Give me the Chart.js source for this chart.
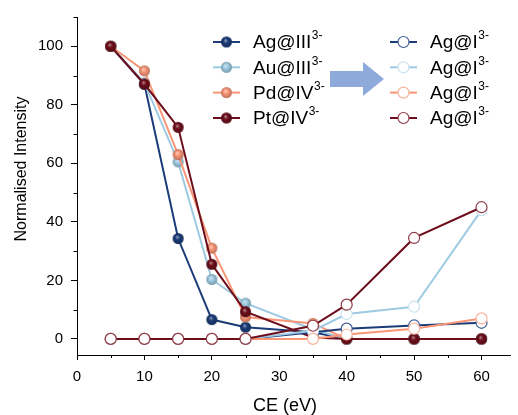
<!DOCTYPE html>
<html>
<head>
<meta charset="utf-8">
<script src="https://cdn.jsdelivr.net/npm/chart.js@4/dist/chart.umd.min.js"></script>
<style>
  html, body { margin: 0; padding: 0; background: #fff; }
  canvas { display: block; }
</style>
</head>
<body>
<canvas id="chart" width="518" height="415"></canvas>
<script>
// Collision energies (eV)
const collisionEnergy = [5, 10, 15, 20, 25, 35, 40, 50, 60];

// Precursor ions (filled markers), normalised intensity
const agIII = [100, 87.0, 34.3, 6.6, 4.0, 2.3, 0, 0, 0];
const auIII = [100, 87.5, 60.5, 20.3, 12.2, 3.2, 0, 0, 0];
const pdIV  = [100, 91.6, 63.0, 31.0, 7.5, 5.3, 0, 0, 0];
const ptIV  = [100, 87.1, 72.3, 25.5, 9.3, 0.5, 0, 0, 0];

// Ag@I product ions (open markers), one per precursor
const agIfromAg = [0, 0, 0, 0, 0, 2.3, 3.5, 4.6, 5.5];
const agIfromAu = [0, 0, 0, 0, 0, 2.8, 8.5, 11.0, 44.0];
const agIfromPd = [0, 0, 0, 0, 0, 0, 1.5, 3.5, 7.0];
const agIfromPt = [0, 0, 0, 0, 0, 4.5, 11.7, 34.5, 45.0];

// Axis ticks
const xTicks = [0, 10, 20, 30, 40, 50, 60];
const xMinorTicks = [5, 15, 25, 35, 45, 55];
const yTicks = [0, 20, 40, 60, 80, 100];
const yMinorTicks = [10, 30, 50, 70, 90, 110];

// Legend text
const precursorNames = ['Ag@III', 'Au@III', 'Pd@IV', 'Pt@IV'];
const productNames = ['Ag@I', 'Ag@I', 'Ag@I', 'Ag@I'];
const chargeLabel = '3-';
const xTitle = 'CE (eV)';
const yTitle = 'Normalised Intensity';

const FONT = 'Arial, "Liberation Sans", Helvetica, sans-serif';
const palette = ['#1b3c78', '#9ecbe3', '#f99676', '#6d0e1c'];
const ringColors = ['#3e5d93', '#c9e2ef', '#f8b49e', '#8d3b47'];
const MARKER_R = 5.5;

function mix(hex, target, t) {
  const n = parseInt(hex.slice(1), 16);
  const r = (n >> 16) & 255, g = (n >> 8) & 255, b = n & 255;
  const m = v => Math.round(v + (target - v) * t);
  return `rgb(${m(r)},${m(g)},${m(b)})`;
}

// Shaded sphere sprite for the filled markers
function ball(color, r) {
  const s = Math.ceil(r * 2 + 2);
  const c = document.createElement('canvas');
  c.width = c.height = s;
  const g = c.getContext('2d');
  const cx = s / 2, cy = s / 2;
  const grad = g.createRadialGradient(cx - r * 0.2, cy - r * 0.3, r * 0.05, cx, cy, r);
  grad.addColorStop(0, mix(color, 255, 0.5));
  grad.addColorStop(0.4, color);
  grad.addColorStop(1, mix(color, 0, 0.25));
  g.fillStyle = grad;
  g.beginPath();
  g.arc(cx, cy, r, 0, Math.PI * 2);
  g.fill();
  return c;
}
const balls = palette.map(c => ball(c, MARKER_R));

const toPoints = arr => collisionEnergy.map((x, i) => ({ x, y: arr[i] }));

const precursorSeries = [agIII, auIII, pdIV, ptIV];
const productSeries = [agIfromAg, agIfromAu, agIfromPd, agIfromPt];

const datasets = [];
precursorSeries.forEach((arr, i) => {
  datasets.push({
    label: precursorNames[i],
    data: toPoints(arr),
    borderColor: palette[i],
    borderWidth: 2,
    pointStyle: balls[i],
    pointRadius: MARKER_R,
    tension: 0,
    order: 8 - i
  });
});
productSeries.forEach((arr, i) => {
  datasets.push({
    label: productNames[i],
    data: toPoints(arr),
    borderColor: palette[i],
    borderWidth: 2,
    pointStyle: 'circle',
    pointRadius: MARKER_R,
    pointBackgroundColor: '#ffffff',
    pointBorderColor: ringColors[i],
    pointBorderWidth: 1.2,
    tension: 0,
    order: 4 - i
  });
});

// Minor tick marks on both axes
const minorTicks = {
  id: 'minorTicks',
  afterDraw(chart) {
    const { ctx, scales: { x, y }, chartArea } = chart;
    ctx.save();
    ctx.strokeStyle = '#000';
    ctx.lineWidth = 1;
    ctx.beginPath();
    xMinorTicks.forEach(v => {
      const px = Math.round(x.getPixelForValue(v)) + 0.5;
      ctx.moveTo(px, chartArea.bottom);
      ctx.lineTo(px, chartArea.bottom + 3);
    });
    yMinorTicks.forEach(v => {
      const py = Math.round(y.getPixelForValue(v)) + 0.5;
      ctx.moveTo(chartArea.left, py);
      ctx.lineTo(chartArea.left - 3.5, py);
    });
    ctx.stroke();
    ctx.restore();
  }
};

// Axis titles
const axisTitles = {
  id: 'axisTitles',
  afterDraw(chart) {
    const { ctx } = chart;
    ctx.save();
    ctx.fillStyle = '#000';
    ctx.textAlign = 'center';
    ctx.textBaseline = 'middle';
    ctx.font = `18px ${FONT}`;
    ctx.fillText(xTitle, 285, 406);
    ctx.translate(22, 169);
    ctx.rotate(-Math.PI / 2);
    ctx.font = `16px ${FONT}`;
    ctx.fillText(yTitle, 0, 0);
    ctx.restore();
  }
};

// Two-column legend with an arrow between the columns
const legendBlock = {
  id: 'legendBlock',
  afterDraw(chart) {
    const ctx = chart.ctx;
    const rows = [42, 67.3, 92.6, 118];
    const drawLabel = (text, x, y) => {
      ctx.font = `19px ${FONT}`;
      ctx.textAlign = 'left';
      ctx.textBaseline = 'middle';
      ctx.fillStyle = '#000';
      ctx.fillText(text, x, y + 1);
      const w = ctx.measureText(text).width;
      ctx.font = `12px ${FONT}`;
      ctx.fillText(chargeLabel, x + w + 0.5, y - 6);
    };
    ctx.save();
    rows.forEach((y, i) => {
      // precursor entry
      ctx.strokeStyle = palette[i];
      ctx.lineWidth = 2;
      ctx.beginPath();
      ctx.moveTo(213, y);
      ctx.lineTo(240, y);
      ctx.stroke();
      ctx.drawImage(balls[i], 226.5 - balls[i].width / 2, y - balls[i].height / 2);
      drawLabel(precursorNames[i], 253, y);

      // product entry
      ctx.strokeStyle = palette[i];
      ctx.lineWidth = 2;
      ctx.beginPath();
      ctx.moveTo(390, y);
      ctx.lineTo(417, y);
      ctx.stroke();
      ctx.beginPath();
      ctx.arc(403.5, y, MARKER_R, 0, Math.PI * 2);
      ctx.fillStyle = '#fff';
      ctx.fill();
      ctx.lineWidth = 1.2;
      ctx.strokeStyle = ringColors[i];
      ctx.stroke();
      drawLabel(productNames[i], 430, y);
    });

    // arrow
    ctx.fillStyle = '#8eaadb';
    ctx.beginPath();
    ctx.moveTo(330, 71);
    ctx.lineTo(363, 71);
    ctx.lineTo(363, 62);
    ctx.lineTo(384, 79);
    ctx.lineTo(363, 96);
    ctx.lineTo(363, 87);
    ctx.lineTo(330, 87);
    ctx.closePath();
    ctx.fill();
    ctx.restore();
  }
};

new Chart(document.getElementById('chart'), {
  type: 'line',
  data: { datasets },
  options: {
    responsive: false,
    devicePixelRatio: 1,
    animation: false,
    layout: { padding: { top: 14, right: 3, left: 0, bottom: 0 } },
    plugins: { legend: { display: false }, tooltip: { enabled: false } },
    elements: { line: { fill: false } },
    scales: {
      x: {
        type: 'linear',
        position: 'bottom',
        min: 0,
        max: 64.3,
        afterBuildTicks: s => { s.ticks = xTicks.map(v => ({ value: v })); },
        afterFit: s => { s.height = 60; },
        grid: { drawOnChartArea: false, drawTicks: true, tickLength: 5, tickColor: '#000' },
        border: { display: true, color: '#000', width: 1 },
        ticks: { color: '#000', font: { family: FONT, size: 15 }, padding: 8, maxRotation: 0, autoSkip: false }
      },
      y: {
        type: 'linear',
        min: -5.5,
        max: 110,
        afterBuildTicks: s => { s.ticks = yTicks.map(v => ({ value: v })); },
        afterFit: s => { s.width = 77; },
        grid: { drawOnChartArea: false, drawTicks: true, tickLength: 6, tickColor: '#000' },
        border: { display: true, color: '#000', width: 1 },
        ticks: { color: '#000', font: { family: FONT, size: 15 }, padding: 8, autoSkip: false }
      }
    }
  },
  plugins: [minorTicks, axisTitles, legendBlock]
});
</script>
</body>
</html>
